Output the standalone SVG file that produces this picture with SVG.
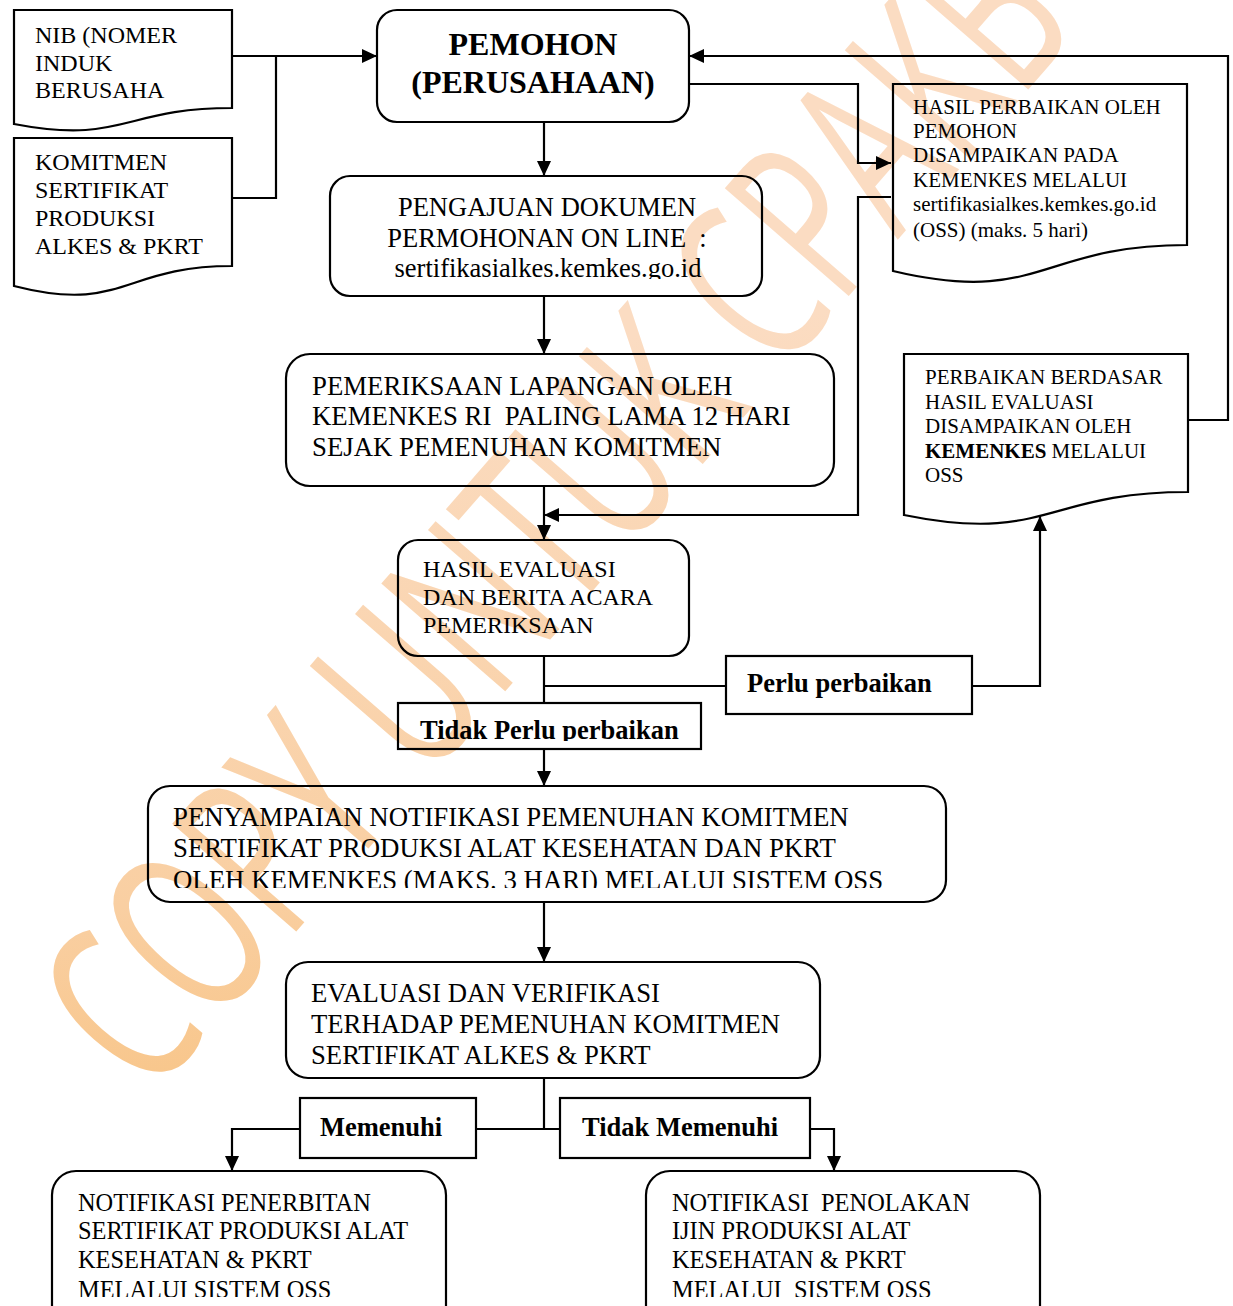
<svg xmlns="http://www.w3.org/2000/svg" width="1233" height="1306" viewBox="0 0 1233 1306">
<defs>
<style>
.n{fill:none;stroke:#000;stroke-width:2.2}
.c{fill:none;stroke:#000;stroke-width:2.2}
.t{font-family:"Liberation Serif","Times New Roman",serif;fill:#000}
.b{font-weight:bold}
.wm{font-family:"Open Sans","Liberation Sans",sans-serif;font-weight:400}
</style>
<marker id="ah" markerUnits="userSpaceOnUse" markerWidth="16" markerHeight="15" refX="15" refY="7" orient="auto">
<path d="M0,0 L15,7 L0,14 Z" fill="#000"/>
</marker>
<linearGradient id="wg" gradientUnits="userSpaceOnUse" x1="80" y1="1100" x2="1050" y2="0">
<stop offset="0" stop-color="#FBDDC5"/>
<stop offset="0.4" stop-color="#FAD6B6"/>
<stop offset="0.52" stop-color="#F8C588"/>
<stop offset="0.66" stop-color="#F9CFA2"/>
<stop offset="1" stop-color="#FBDCC2"/>
</linearGradient>
<clipPath id="cp1"><rect x="330" y="176" width="432" height="103"/></clipPath>
<clipPath id="cp2"><rect x="398" y="703" width="303" height="38"/></clipPath>
<clipPath id="cp3"><rect x="148" y="786" width="798" height="102"/></clipPath>
<clipPath id="cp4"><rect x="52" y="1171" width="394" height="126"/></clipPath>
<clipPath id="cp5"><rect x="646" y="1171" width="394" height="126"/></clipPath>
</defs>
<rect width="1233" height="1306" fill="#fff"/>
<g id="watermark">
<text class="wm" x="0" y="0" font-size="230" textLength="1420" lengthAdjust="spacingAndGlyphs" fill="url(#wg)" transform="translate(150,1100) rotate(-49)">COPY UNTUK CPAKB</text>
</g>
<g id="connectors">
<path class="c" d="M232,56 H377" marker-end="url(#ah)"/>
<path class="c" d="M232,198 H276 V56"/>
<path class="c" d="M544,122 V176" marker-end="url(#ah)"/>
<path class="c" d="M544,296 V354" marker-end="url(#ah)"/>
<path class="c" d="M544,486 V540" marker-end="url(#ah)"/>
<path class="c" d="M689,84 H858 V163 H891" marker-end="url(#ah)"/>
<path class="c" d="M891,197 H858 V515 H544" marker-end="url(#ah)"/>
<path class="c" d="M1188,420 H1228 V56 H689" marker-end="url(#ah)"/>
<path class="c" d="M544,656 V703"/>
<path class="c" d="M544,686 H726"/>
<path class="c" d="M972,686 H1040 V516" marker-end="url(#ah)"/>
<path class="c" d="M544,749 V786" marker-end="url(#ah)"/>
<path class="c" d="M544,902 V962" marker-end="url(#ah)"/>
<path class="c" d="M544,1078 V1129"/>
<path class="c" d="M476,1129 H560"/>
<path class="c" d="M300,1129 H232 V1171" marker-end="url(#ah)"/>
<path class="c" d="M810,1129 H834 V1171" marker-end="url(#ah)"/>
</g>
<g id="nib">
<path class="n" d="M14,10 H232 V108 C123,108 123,145 14,124 Z"/>
<text class="t" font-size="24" x="35" y="43">NIB (NOMER</text>
<text class="t" font-size="24" x="35" y="71">INDUK</text>
<text class="t" font-size="24" x="35" y="98">BERUSAHA</text>
</g>
<g id="komitmen">
<path class="n" d="M14,138 H232 V266 C123,266 123,314 14,286 Z"/>
<text class="t" font-size="24" x="35" y="170">KOMITMEN</text>
<text class="t" font-size="24" x="35" y="198">SERTIFIKAT</text>
<text class="t" font-size="24" x="35" y="226">PRODUKSI</text>
<text class="t" font-size="24" x="35" y="254">ALKES &amp; PKRT</text>
</g>
<g id="pemohon">
<rect class="n" x="377" y="10" width="312" height="112" rx="20"/>
<text class="t b" font-size="32" x="533" y="55" text-anchor="middle">PEMOHON</text>
<text class="t b" font-size="32" x="533" y="93" text-anchor="middle">(PERUSAHAAN)</text>
</g>
<g id="pengajuan">
<rect class="n" x="330" y="176" width="432" height="120" rx="20"/>
<g clip-path="url(#cp1)">
<text class="t" font-size="26.5" x="547" y="216" text-anchor="middle">PENGAJUAN DOKUMEN</text>
<text class="t" font-size="26.5" x="547" y="247" text-anchor="middle" xml:space="preserve">PERMOHONAN ON LINE  :</text>
<text class="t" font-size="26.5" x="548" y="277" text-anchor="middle">sertifikasialkes.kemkes.go.id</text>
</g>
</g>
<g id="pemeriksaan">
<rect class="n" x="286" y="354" width="548" height="132" rx="24"/>
<text class="t" font-size="26.8" x="312" y="395">PEMERIKSAAN LAPANGAN OLEH</text>
<text class="t" font-size="26.8" x="312" y="425" xml:space="preserve">KEMENKES RI  PALING LAMA 12 HARI</text>
<text class="t" font-size="26.8" x="312" y="456">SEJAK PEMENUHAN KOMITMEN</text>
</g>
<g id="hasil-perbaikan">
<path class="n" d="M893,84 H1187 V245 C1040,245 1040,306 893,271 Z"/>
<text class="t" font-size="21" x="913" y="114">HASIL PERBAIKAN OLEH</text>
<text class="t" font-size="21" x="913" y="138">PEMOHON</text>
<text class="t" font-size="21" x="913" y="162">DISAMPAIKAN PADA</text>
<text class="t" font-size="21" x="913" y="187">KEMENKES MELALUI</text>
<text class="t" font-size="21" x="913" y="211">sertifikasialkes.kemkes.go.id</text>
<text class="t" font-size="21" x="913" y="237">(OSS) (maks. 5 hari)</text>
</g>
<g id="perbaikan-berdasar">
<path class="n" d="M904,354 H1188 V492 C1046,492 1046,544 904,515 Z"/>
<text class="t" font-size="21" x="925" y="384">PERBAIKAN BERDASAR</text>
<text class="t" font-size="21" x="925" y="409">HASIL EVALUASI</text>
<text class="t" font-size="21" x="925" y="433">DISAMPAIKAN OLEH</text>
<text class="t" font-size="21" x="925" y="458"><tspan font-weight="bold">KEMENKES</tspan> MELALUI</text>
<text class="t" font-size="21" x="925" y="482">OSS</text>
</g>
<g id="hasil-evaluasi">
<rect class="n" x="398" y="540" width="291" height="116" rx="20"/>
<text class="t" font-size="24" x="423" y="577">HASIL EVALUASI</text>
<text class="t" font-size="24" x="423" y="605">DAN BERITA ACARA</text>
<text class="t" font-size="24" x="423" y="633">PEMERIKSAAN</text>
</g>
<g id="perlu-perbaikan">
<rect class="n" x="726" y="656" width="246" height="58"/>
<text class="t b" font-size="26.5" x="747" y="692">Perlu perbaikan</text>
</g>
<g id="tidak-perlu-perbaikan">
<rect class="n" x="398" y="703" width="303" height="46"/>
<text class="t b" font-size="26.5" x="420" y="739" clip-path="url(#cp2)">Tidak Perlu perbaikan</text>
</g>
<g id="penyampaian">
<rect class="n" x="148" y="786" width="798" height="116" rx="22"/>
<g clip-path="url(#cp3)">
<text class="t" font-size="26.8" x="173" y="826">PENYAMPAIAN NOTIFIKASI PEMENUHAN KOMITMEN</text>
<text class="t" font-size="26.8" x="173" y="857">SERTIFIKAT PRODUKSI ALAT KESEHATAN DAN PKRT</text>
<text class="t" font-size="26.8" x="173" y="889">OLEH KEMENKES (MAKS. 3 HARI) MELALUI SISTEM OSS</text>
</g>
</g>
<g id="evaluasi-verifikasi">
<rect class="n" x="286" y="962" width="534" height="116" rx="22"/>
<text class="t" font-size="26.7" x="311" y="1002">EVALUASI DAN VERIFIKASI</text>
<text class="t" font-size="26.7" x="311" y="1033">TERHADAP PEMENUHAN KOMITMEN</text>
<text class="t" font-size="26.7" x="311" y="1064">SERTIFIKAT ALKES &amp; PKRT</text>
</g>
<g id="memenuhi">
<rect class="n" x="300" y="1098" width="176" height="60"/>
<text class="t b" font-size="26.5" x="320" y="1136">Memenuhi</text>
</g>
<g id="tidak-memenuhi">
<rect class="n" x="560" y="1098" width="250" height="60"/>
<text class="t b" font-size="26.5" x="582" y="1136">Tidak Memenuhi</text>
</g>
<g id="notifikasi-penerbitan">
<rect class="n" x="52" y="1171" width="394" height="170" rx="24"/>
<g clip-path="url(#cp4)">
<text class="t" font-size="24.4" x="78" y="1211">NOTIFIKASI PENERBITAN</text>
<text class="t" font-size="24.4" x="78" y="1239">SERTIFIKAT PRODUKSI ALAT</text>
<text class="t" font-size="24.4" x="78" y="1268">KESEHATAN &amp; PKRT</text>
<text class="t" font-size="24.4" x="78" y="1298">MELALUI SISTEM OSS</text>
</g>
</g>
<g id="notifikasi-penolakan">
<rect class="n" x="646" y="1171" width="394" height="170" rx="24"/>
<g clip-path="url(#cp5)">
<text class="t" font-size="24.4" x="672" y="1211" xml:space="preserve">NOTIFIKASI  PENOLAKAN</text>
<text class="t" font-size="24.4" x="672" y="1239">IJIN PRODUKSI ALAT</text>
<text class="t" font-size="24.4" x="672" y="1268">KESEHATAN &amp; PKRT</text>
<text class="t" font-size="24.4" x="672" y="1298" xml:space="preserve">MELALUI  SISTEM OSS</text>
</g>
</g>
</svg>
